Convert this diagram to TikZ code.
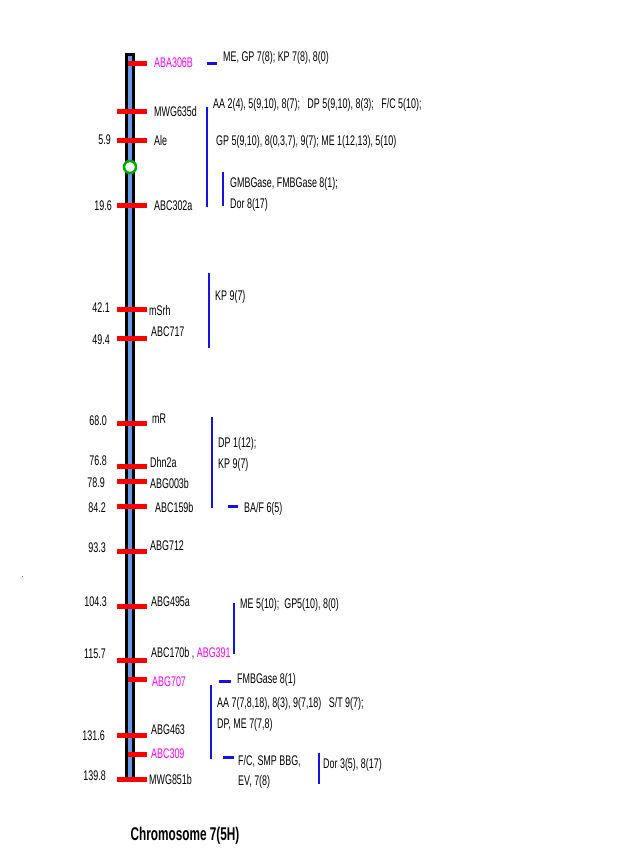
\documentclass[tikz,border=0pt]{standalone}
\usepackage{fontspec}
\setmainfont[FakeStretch=0.64]{Liberation Sans}
\definecolor{chromblue}{RGB}{102,153,230}
\definecolor{mkred}{RGB}{255,0,0}
\definecolor{mkpink}{RGB}{255,0,255}
\definecolor{barblue}{RGB}{20,20,225}
\definecolor{cengreen}{RGB}{0,170,0}
\begin{document}
\begin{tikzpicture}[x=1bp,y=-1bp,
  lab/.style={anchor=base west,inner sep=0pt,yshift=-5bp,font=\fontsize{14}{16}\selectfont},
  num/.style={anchor=base east,inner sep=0pt,yshift=-5bp,font=\fontsize{14}{16}\selectfont},
  pinklab/.style={lab,text=mkpink},
  redtick/.style={draw=mkred,line width=5bp},
  vbar/.style={draw=barblue,line width=2bp},
  hdash/.style={draw=barblue,line width=3bp}]
\useasboundingbox (0,0) rectangle (624,854);
% chromosome
\draw[line width=3bp,fill=chromblue] (126.5,54.5) rectangle (133.5,780.5);
% ticks: long
\foreach \y in {111,140,205,309,338,423,466,481,506,551,606,660,735,779}
  \draw[redtick] (117,\y) -- (147,\y);
% ticks: short
\foreach \y in {63,679,754}
  \draw[redtick] (128,\y) -- (147,\y);
% centromere
\node[circle,draw=cengreen,fill=white,line width=2.5bp,minimum size=12bp,inner sep=0pt] (cen) at (130,167) {};
% marker labels
\node[pinklab] (m1) at (154,62) {ABA306B};
\node[lab] (m2) at (154,111) {MWG635d};
\node[lab] (m3) at (154,140) {Ale};
\node[lab] (m4) at (154,205) {ABC302a};
\node[lab] (m5) at (149,310) {mSrh};
\node[lab] (m6) at (151,331) {ABC717};
\node[lab] (m7) at (152,418) {mR};
\node[lab] (m8) at (150,462) {Dhn2a};
\node[lab] (m9) at (150,483) {ABG003b};
\node[lab] (m10) at (155,507) {ABC159b};
\node[lab] (m11) at (150,545) {ABG712};
\node[lab] (m12) at (151,601) {ABG495a};
\node[lab] (m13) at (151,652) {ABC170b , \textcolor{mkpink}{ABG391}};
\node[pinklab] (m14) at (152,681) {ABG707};
\node[lab] (m15) at (151,729) {ABG463};
\node[pinklab] (m16) at (151,753) {ABC309};
\node[lab] (m17) at (149,779) {MWG851b};
% positions (cM)
\node[num] (n3) at (111,139) {5.9};
\node[num] (n4) at (112,205) {19.6};
\node[num] (n5) at (110,307) {42.1};
\node[num] (n6) at (110,339) {49.4};
\node[num] (n7) at (107,420) {68.0};
\node[num] (n8) at (107,460) {76.8};
\node[num] (n9) at (105,482) {78.9};
\node[num] (n10) at (106,507) {84.2};
\node[num] (n11) at (106,547) {93.3};
\node[num] (n12) at (107,601) {104.3};
\node[num] (n13) at (106,653) {115.7};
\node[num] (n15) at (105,735) {131.6};
\node[num] (n17) at (106,775) {139.8};
% QTL bars and texts
\draw[hdash] (207,63) -- (217,63);
\node[lab] (q1) at (223,56) {ME, GP 7(8); KP 7(8), 8(0)};
\draw[vbar] (207,107) -- (207,207);
\node[lab] (q2) at (213,103) {AA 2(4), 5(9,10), 8(7);\ \ \ DP 5(9,10), 8(3);\ \ \ F/C 5(10);};
\node[lab] (q3) at (216,140) {GP 5(9,10), 8(0,3,7), 9(7); ME 1(12,13), 5(10)};
\draw[vbar] (223,172) -- (223,206);
\node[lab] (q4) at (230,182) {GMBGase, FMBGase 8(1);};
\node[lab] (q5) at (230,203) {Dor 8(17)};
\draw[vbar] (209,273) -- (209,348);
\node[lab] (q6) at (215,295) {KP 9(7)};
\draw[vbar] (212,417) -- (212,508);
\node[lab] (q7) at (218,442) {DP 1(12);};
\node[lab] (q8) at (218,463) {KP 9(7)};
\draw[hdash] (228,506) -- (238,506);
\node[lab] (q9) at (244,507) {BA/F 6(5)};
\draw[vbar] (234,603) -- (234,654);
\node[lab] (q10) at (240,603) {ME 5(10);\ \ GP5(10), 8(0)};
\draw[hdash] (219,681) -- (231,681);
\node[lab] (q11) at (237,678) {FMBGase 8(1)};
\draw[vbar] (211,685) -- (211,759);
\node[lab] (q12) at (217,702) {AA 7(7,8,18), 8(3), 9(7,18)\ \ \ S/T 9(7);};
\node[lab] (q13) at (217,723) {DP, ME 7(7,8)};
\draw[hdash] (223,757) -- (234,757);
\node[lab] (q14) at (238,760) {F/C, SMP BBG,};
\node[lab] (q15) at (238,780) {EV, 7(8)};
\draw[vbar] (319,753) -- (319,784);
\node[lab] (q16) at (323,763) {Dor 3(5), 8(17)};
% stray dot
\fill[gray] (21.5,575.5) rectangle (22.5,576.5);
% caption
\node[inner sep=0pt,font=\fontsize{18.5}{20}\selectfont\bfseries] (cap) at (185,836) {Chromosome 7(5H)};
\end{tikzpicture}
\end{document}
